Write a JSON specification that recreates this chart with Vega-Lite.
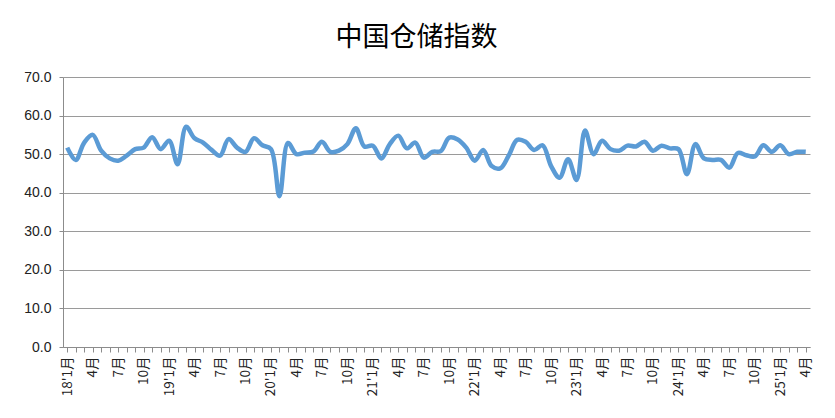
{
  "$schema": "https://vega.github.io/schema/vega-lite/v6.json",
  "description": "中国仓储指数, monthly 2018-01 to 2025-04",
  "width": 747,
  "height": 270,
  "autosize": "none",
  "padding": {"left": 63, "top": 77, "right": 25, "bottom": 71},
  "background": "white",
  "title": {
    "text": "中国仓储指数",
    "font": "Noto Sans CJK SC",
    "fontSize": 27,
    "fontWeight": "normal",
    "color": "#000000",
    "anchor": "middle",
    "dx": -20,
    "offset": 18
  },
  "data": {
    "values": [
      {"month": "2018-01", "index": 51.7}, {"month": "2018-02", "index": 48.5}, {"month": "2018-03", "index": 53.0},
      {"month": "2018-04", "index": 55.0}, {"month": "2018-05", "index": 50.9}, {"month": "2018-06", "index": 48.9},
      {"month": "2018-07", "index": 48.3}, {"month": "2018-08", "index": 49.6}, {"month": "2018-09", "index": 51.3},
      {"month": "2018-10", "index": 51.7}, {"month": "2018-11", "index": 54.4}, {"month": "2018-12", "index": 51.3},
      {"month": "2019-01", "index": 53.5}, {"month": "2019-02", "index": 47.4}, {"month": "2019-03", "index": 57.1},
      {"month": "2019-04", "index": 54.1}, {"month": "2019-05", "index": 53.0}, {"month": "2019-06", "index": 51.1},
      {"month": "2019-07", "index": 49.6}, {"month": "2019-08", "index": 53.9}, {"month": "2019-09", "index": 51.7},
      {"month": "2019-10", "index": 50.6}, {"month": "2019-11", "index": 54.1}, {"month": "2019-12", "index": 52.3},
      {"month": "2020-01", "index": 51.3}, {"month": "2020-02", "index": 39.1}, {"month": "2020-03", "index": 52.9},
      {"month": "2020-04", "index": 50.0}, {"month": "2020-05", "index": 50.4}, {"month": "2020-06", "index": 50.7},
      {"month": "2020-07", "index": 53.2}, {"month": "2020-08", "index": 50.6}, {"month": "2020-09", "index": 50.9},
      {"month": "2020-10", "index": 52.6}, {"month": "2020-11", "index": 56.7}, {"month": "2020-12", "index": 52.0},
      {"month": "2021-01", "index": 52.2}, {"month": "2021-02", "index": 48.9}, {"month": "2021-03", "index": 52.6},
      {"month": "2021-04", "index": 54.8}, {"month": "2021-05", "index": 51.5}, {"month": "2021-06", "index": 53.0},
      {"month": "2021-07", "index": 49.1}, {"month": "2021-08", "index": 50.6}, {"month": "2021-09", "index": 50.8},
      {"month": "2021-10", "index": 54.3}, {"month": "2021-11", "index": 53.8}, {"month": "2021-12", "index": 51.7},
      {"month": "2022-01", "index": 48.3}, {"month": "2022-02", "index": 51.1}, {"month": "2022-03", "index": 46.9},
      {"month": "2022-04", "index": 46.3}, {"month": "2022-05", "index": 49.6}, {"month": "2022-06", "index": 53.7},
      {"month": "2022-07", "index": 53.2}, {"month": "2022-08", "index": 51.1}, {"month": "2022-09", "index": 52.3},
      {"month": "2022-10", "index": 46.9}, {"month": "2022-11", "index": 43.9}, {"month": "2022-12", "index": 48.7},
      {"month": "2023-01", "index": 43.3}, {"month": "2023-02", "index": 56.1}, {"month": "2023-03", "index": 50.0},
      {"month": "2023-04", "index": 53.5}, {"month": "2023-05", "index": 51.3}, {"month": "2023-06", "index": 50.9},
      {"month": "2023-07", "index": 52.2}, {"month": "2023-08", "index": 52.0}, {"month": "2023-09", "index": 53.2},
      {"month": "2023-10", "index": 50.9}, {"month": "2023-11", "index": 52.2}, {"month": "2023-12", "index": 51.5},
      {"month": "2024-01", "index": 51.3}, {"month": "2024-02", "index": 44.8}, {"month": "2024-03", "index": 52.6},
      {"month": "2024-04", "index": 48.9}, {"month": "2024-05", "index": 48.5}, {"month": "2024-06", "index": 48.5},
      {"month": "2024-07", "index": 46.5}, {"month": "2024-08", "index": 50.3}, {"month": "2024-09", "index": 49.7},
      {"month": "2024-10", "index": 49.4}, {"month": "2024-11", "index": 52.3}, {"month": "2024-12", "index": 50.6},
      {"month": "2025-01", "index": 52.3}, {"month": "2025-02", "index": 50.0}, {"month": "2025-03", "index": 50.6},
      {"month": "2025-04", "index": 50.6}
    ]
  },
  "mark": {
    "type": "line",
    "color": "#5B9BD5",
    "strokeWidth": 4.5,
    "interpolate": "catmull-rom"
  },
  "encoding": {
    "x": {
      "field": "month",
      "type": "ordinal",
      "scale": {"type": "point", "padding": 0.5},
      "axis": {
        "title": null,
        "grid": false,
        "labelAngle": -90,
        "labelOverlap": false,
        "labelFont": "Noto Sans CJK SC",
        "labelFontSize": 13.5,
        "labelColor": "#222222",
        "labelPadding": 4,
        "tickSize": 5,
        "tickColor": "#8c8c8c",
        "domainColor": "#8c8c8c",
        "labelExpr": "slice(datum.value, 5) == '01' ? slice(datum.value, 2, 4) + \"'1月\" : slice(datum.value, 5) == '04' ? '4月' : slice(datum.value, 5) == '07' ? '7月' : slice(datum.value, 5) == '10' ? '10月' : ''"
      }
    },
    "y": {
      "field": "index",
      "type": "quantitative",
      "scale": {"domain": [0, 70]},
      "axis": {
        "title": null,
        "values": [0, 10, 20, 30, 40, 50, 60, 70],
        "format": ".1f",
        "labelFont": "Liberation Sans",
        "labelFontSize": 14,
        "labelColor": "#222222",
        "labelPadding": 8,
        "tickSize": 4,
        "tickColor": "#8c8c8c",
        "domainColor": "#8c8c8c",
        "gridColor": "#9a9a9a"
      }
    }
  },
  "config": {"view": {"stroke": null}}
}
